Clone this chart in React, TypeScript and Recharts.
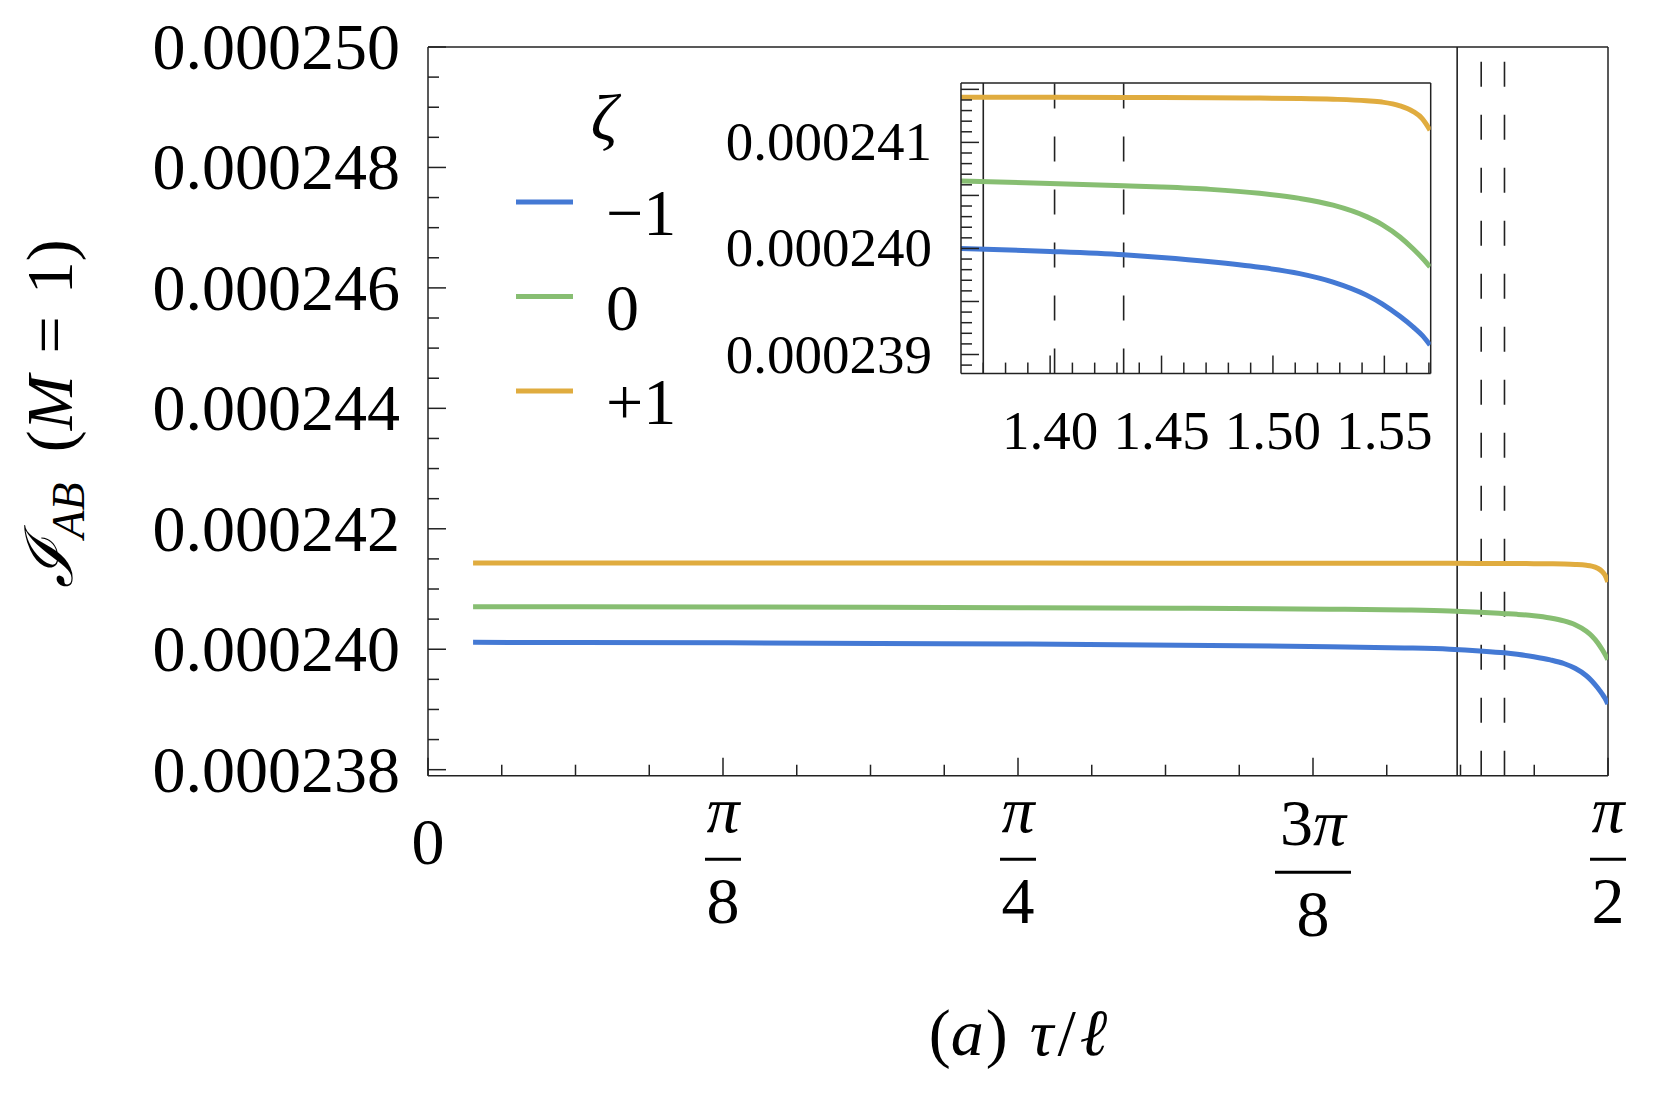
import React from "react";
import { LineChart, Line, XAxis, YAxis, ReferenceLine, Legend } from "recharts";

const FONT = "'Liberation Serif', 'DejaVu Serif', serif";
const INK = "#222";

// τ/ℓ samples, denser near π/2 where the curves bend down
const TAU = [
  0.06, 0.2, 0.4, 0.6, 0.8, 1.0, 1.2, 1.3, 1.36, 1.4, 1.433, 1.45, 1.472, 1.494,
  1.512, 1.527, 1.542, 1.549, 1.557, 1.563, 1.567, 1.5705,
];
const ZETA_MINUS = [
  0.000240114, 0.000240112, 0.000240106, 0.000240097, 0.000240085, 0.000240068,
  0.000240042, 0.000240022, 0.00024, 0.000239972, 0.00023994, 0.000239915,
  0.000239875, 0.000239823, 0.000239763, 0.000239683, 0.00023956, 0.000239478,
  0.00023936, 0.000239258, 0.00023918, 0.00023909,
];
const ZETA_ZERO = [
  0.000240706, 0.000240705, 0.000240702, 0.000240697, 0.00024069, 0.00024068,
  0.000240665, 0.000240652, 0.000240635, 0.000240613, 0.000240591, 0.000240579,
  0.000240557, 0.00024052, 0.000240472, 0.000240408, 0.0002403, 0.000240225,
  0.000240108, 0.000239995, 0.00023991, 0.000239826,
];
const ZETA_PLUS = [
  0.00024143, 0.00024143, 0.00024143, 0.00024143, 0.00024143, 0.000241429,
  0.000241428, 0.000241427, 0.000241426, 0.000241425, 0.000241424, 0.000241423,
  0.000241421, 0.000241418, 0.000241414, 0.000241407, 0.000241393, 0.00024138,
  0.000241345, 0.00024129, 0.000241225, 0.000241116,
];

const SERIES = [
  { key: "m1", name: "\u22121", color: "#4479D4" },
  { key: "z0", name: "0", color: "#87BE72" },
  { key: "p1", name: "+1", color: "#E0AC3F" },
];

const SOLID_TAU = 1.37;
const DASHED_TAU = [1.402, 1.433];

const MAIN_X_MAJOR = [0, Math.PI / 8, Math.PI / 4, (3 * Math.PI) / 8, Math.PI / 2];
const MAIN_X_LABELS = ["0", "π/8", "π/4", "3π/8", "π/2"];
const MAIN_Y_MAJOR = [0.000238, 0.00024, 0.000242, 0.000244, 0.000246, 0.000248, 0.00025];
const MAIN_Y_LABELS = ["0.000238", "0.000240", "0.000242", "0.000244", "0.000246", "0.000248", "0.000250"];
const MAIN_Y_DOMAIN = [0.0002379, 0.00025];

const INSET_X_DOMAIN = [1.36, Math.PI / 2];
const INSET_Y_DOMAIN = [0.00023882, 0.00024156];
const INSET_X_MAJOR = [1.4, 1.45, 1.5, 1.55];
const INSET_X_LABELS = ["1.40", "1.45", "1.50", "1.55"];
const INSET_Y_MAJOR = [0.000239, 0.00024, 0.000241];
const INSET_Y_LABELS = ["0.000239", "0.000240", "0.000241"];
const INSET_Y_HALF = [0.0002395, 0.0002405, 0.0002415];

const rows = TAU.map((t, i) => ({
  tau: t,
  m1: ZETA_MINUS[i],
  z0: ZETA_ZERO[i],
  p1: ZETA_PLUS[i],
}));

const near = (a: number, b: number, eps: number) => Math.abs(a - b) < eps;

function subdivide(majors: number[], n: number) {
  const out: number[] = [];
  for (let i = 0; i < majors.length - 1; i++) {
    for (let k = 0; k < n; k++) out.push(majors[i] + ((majors[i + 1] - majors[i]) * k) / n);
  }
  out.push(majors[majors.length - 1]);
  return out;
}

function steps(from: number, to: number, step: number) {
  const out: number[] = [];
  const n = Math.round((to - from) / step);
  for (let i = 0; i <= n; i++) out.push(from + i * step);
  return out;
}

const MAIN_X_TICKS = subdivide(MAIN_X_MAJOR, 4);
const MAIN_Y_TICKS = subdivide(MAIN_Y_MAJOR, 4);
const INSET_X_TICKS = steps(1.37, 1.57, 0.01);
const INSET_Y_TICKS = steps(0.0002389, 0.0002415, 0.0000001);

function FracLabel({ x, y, label }: { x: number; y: number; label: string }) {
  if (!label.includes("/")) {
    return (
      <text x={x} y={y + 88} textAnchor="middle" fontSize={66} fontFamily={FONT} fill="#000">
        {label}
      </text>
    );
  }
  const [num, den] = label.split("/");
  const tall = num.length > 1;
  const s = tall ? 13 : 0;
  const w = tall ? 76 : 36;
  return (
    <g fontFamily={FONT} fontSize={66} fill="#000">
      <text x={x} y={y + 56 + s} textAnchor="middle">
        {tall && <tspan>{num.slice(0, -1)}</tspan>}
        <tspan fontStyle="italic">π</tspan>
      </text>
      <line x1={x - w / 2} x2={x + w / 2} y1={y + 83.5 + s} y2={y + 83.5 + s} stroke="#000" strokeWidth={3} />
      <text x={x} y={y + 147 + s} textAnchor="middle">
        {den}
      </text>
    </g>
  );
}

function MainXTick(props: any) {
  const { x, y, payload } = props;
  const i = MAIN_X_MAJOR.findIndex((m) => near(m, payload.value, 1e-6));
  return (
    <g>
      <line x1={x} x2={x} y1={y} y2={y - (i >= 0 ? 18 : 11)} stroke={INK} strokeWidth={1.5} />
      {i >= 0 && <FracLabel x={x} y={y} label={MAIN_X_LABELS[i]} />}
    </g>
  );
}

function MainYTick(props: any) {
  const { x, y, payload } = props;
  const i = MAIN_Y_MAJOR.findIndex((m) => near(m, payload.value, 1e-11));
  return (
    <g>
      <line x1={x} x2={x + (i >= 0 ? 18 : 11)} y1={y} y2={y} stroke={INK} strokeWidth={1.5} />
      {i >= 0 && (
        <text x={x - 28} y={y + 22} textAnchor="end" fontSize={66} fontFamily={FONT} fill="#000">
          {MAIN_Y_LABELS[i]}
        </text>
      )}
    </g>
  );
}

function InsetXTick(props: any) {
  const { x, y, payload } = props;
  const i = INSET_X_MAJOR.findIndex((m) => near(m, payload.value, 1e-6));
  return (
    <g>
      <line x1={x} x2={x} y1={y} y2={y - (i >= 0 ? 18 : 11)} stroke={INK} strokeWidth={1.5} />
      {i >= 0 && (
        <text x={x} y={y + 75} textAnchor="middle" fontSize={55} fontFamily={FONT} fill="#000">
          {INSET_X_LABELS[i]}
        </text>
      )}
    </g>
  );
}

function InsetYTick(props: any) {
  const { x, y, payload } = props;
  const i = INSET_Y_MAJOR.findIndex((m) => near(m, payload.value, 1e-11));
  const long = i >= 0 || INSET_Y_HALF.some((m) => near(m, payload.value, 1e-11));
  return (
    <g>
      <line x1={x} x2={x + (long ? 18 : 11)} y1={y} y2={y} stroke={INK} strokeWidth={1.5} />
      {i >= 0 && (
        <text x={x - 29} y={y + 18} textAnchor="end" fontSize={55} fontFamily={FONT} fill="#000">
          {INSET_Y_LABELS[i]}
        </text>
      )}
    </g>
  );
}

function ZetaLegend(props: any) {
  const order = SERIES.map((s) => s.name);
  const items = [...(props.payload ?? [])].sort(
    (a: any, b: any) => order.indexOf(a.value) - order.indexOf(b.value)
  );
  return (
    <svg width={260} height={380} style={{ overflow: "visible" }}>
      <text x={116} y={72} textAnchor="middle" fontStyle="italic" fontSize={66} fontFamily={FONT} fill="#000">
        ζ
      </text>
      {items.map((p: any, i: number) => (
        <g key={p.value}>
          <line x1={28} x2={85} y1={134 + i * 94.5} y2={134 + i * 94.5} stroke={p.color} strokeWidth={5} />
          <text x={118} y={167 + i * 94.5} fontSize={66} fontFamily={FONT} fill="#000">
            {p.value}
          </text>
        </g>
      ))}
    </svg>
  );
}

const yTitle = (props: any) => {
  const vb = props.viewBox;
  const cx = 64;
  const cy = vb.y + vb.height / 2 + 2;
  return (
    <text
      x={cx}
      y={cy}
      transform={`rotate(-90 ${cx} ${cy})`}
      textAnchor="middle"
      fontSize={66}
      fontFamily={FONT}
      fill="#000"
    >
      <tspan fontStyle="italic">ℐ</tspan>
      <tspan fontStyle="italic" fontSize={46} dy={12}>
        AB
      </tspan>
      <tspan dy={-12} dx={30}>
        (
      </tspan>
      <tspan fontStyle="italic">M</tspan>
      <tspan dx={22}>=</tspan>
      <tspan dx={22}>1)</tspan>
    </text>
  );
};

const xTitle = (props: any) => {
  const vb = props.viewBox;
  const cx = vb.x + vb.width / 2;
  return (
    <text x={cx} y={vb.y + 279} textAnchor="middle" fontSize={66} fontFamily={FONT} fill="#000">
      <tspan>(</tspan>
      <tspan fontStyle="italic">a</tspan>
      <tspan dx={2}>)</tspan>
      <tspan dx={22} fontStyle="italic">τ</tspan>
      <tspan dx={4}>/</tspan>
      <tspan dx={4} fontStyle="italic">ℓ</tspan>
    </text>
  );
};

function Inset() {
  return (
    <LineChart width={739.7} height={390.6} data={rows} margin={{ top: 10, right: 10, left: 0, bottom: 0 }}>
      <XAxis
        type="number"
        dataKey="tau"
        domain={INSET_X_DOMAIN}
        allowDataOverflow
        ticks={INSET_X_TICKS}
        interval={0}
        tickSize={0}
        tickMargin={0}
        tickLine={false}
        tick={InsetXTick}
        height={90}
        axisLine={{ stroke: INK, strokeWidth: 1.5 }}
      />
      <YAxis
        type="number"
        domain={INSET_Y_DOMAIN}
        allowDataOverflow
        ticks={INSET_Y_TICKS}
        interval={0}
        tickSize={0}
        tickMargin={0}
        tickLine={false}
        tick={InsetYTick}
        width={260}
        axisLine={{ stroke: INK, strokeWidth: 1.5 }}
      />
      <ReferenceLine x={INSET_X_DOMAIN[1]} stroke={INK} strokeWidth={1.5} />
      <ReferenceLine y={INSET_Y_DOMAIN[1]} stroke={INK} strokeWidth={1.5} />
      <ReferenceLine x={SOLID_TAU} stroke={INK} strokeWidth={1.6} />
      {DASHED_TAU.map((t) => (
        <ReferenceLine key={t} x={t} stroke={INK} strokeWidth={1.6} strokeDasharray="25 28" />
      ))}
      {SERIES.map((s) => (
        <Line
          key={s.key}
          type="monotone"
          dataKey={s.key}
          name={s.name}
          stroke={s.color}
          strokeWidth={5}
          dot={false}
          activeDot={false}
          isAnimationActive={false}
        />
      ))}
    </LineChart>
  );
}

export default function App() {
  return (
    <div style={{ position: "relative", width: 1645, height: 1085, background: "#fff" }}>
      <LineChart width={1645} height={1085} data={rows} margin={{ top: 39, right: 45, left: 0, bottom: 0 }}>
        <XAxis
          type="number"
          dataKey="tau"
          domain={[0, Math.PI / 2]}
          allowDataOverflow
          ticks={MAIN_X_TICKS}
          interval={0}
          tickSize={0}
          tickMargin={0}
          tickLine={false}
          tick={MainXTick}
          height={317.3}
          axisLine={{ stroke: INK, strokeWidth: 1.5 }}
          label={{ content: xTitle }}
        />
        <YAxis
          type="number"
          domain={MAIN_Y_DOMAIN}
          allowDataOverflow
          ticks={MAIN_Y_TICKS}
          interval={0}
          tickSize={0}
          tickMargin={0}
          tickLine={false}
          tick={MainYTick}
          width={420}
          axisLine={{ stroke: INK, strokeWidth: 1.5 }}
          label={{ content: yTitle }}
        />
        <ReferenceLine x={Math.PI / 2} stroke={INK} strokeWidth={1.5} />
        <ReferenceLine y={MAIN_Y_DOMAIN[1]} stroke={INK} strokeWidth={1.5} />
        <ReferenceLine x={SOLID_TAU} stroke={INK} strokeWidth={1.6} />
        {DASHED_TAU.map((t) => (
          <ReferenceLine key={t} x={t} stroke={INK} strokeWidth={1.6} strokeDasharray="25 28" />
        ))}
        {SERIES.map((s) => (
          <Line
            key={s.key}
            type="monotone"
            dataKey={s.key}
            name={s.name}
            stroke={s.color}
            strokeWidth={5}
            dot={false}
            activeDot={false}
            isAnimationActive={false}
          />
        ))}
        <Legend
          layout="vertical"
          align="center"
          verticalAlign="middle"
          wrapperStyle={{ left: 480, top: 60, width: 260, height: 380 }}
          content={ZetaLegend}
        />
      </LineChart>
      <div style={{ position: "absolute", left: 693, top: 64.7 }}>
        <Inset />
      </div>
    </div>
  );
}
